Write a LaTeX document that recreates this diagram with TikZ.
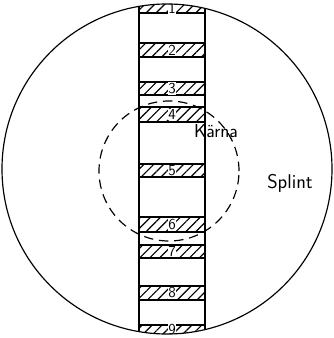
\documentclass[tikz,border=0pt]{standalone}
\usepackage{tikz}
\usetikzlibrary{patterns.meta}
\tikzset{
  band/.style={draw, line width=1pt, pattern={Lines[angle=45, distance=6pt, line width=1pt]}},
  num/.style={fill=white, inner sep=0.6pt, font=\fontsize{13}{14}\sffamily},
  lbl/.style={font=\fontsize{16}{19}\sffamily}
}
\begin{document}
\begin{tikzpicture}[x=0.03cm, y=-0.03cm]
  \useasboundingbox (0,0) rectangle (333,338);
  \coordinate (c) at (167,169);
  \coordinate (k) at (169,171);
  \begin{scope}
    \clip (c) circle (4.95cm);
    \foreach \n/\a/\b/\m in {1/1/13/8, 2/43/57/50, 3/82/95/88.5, 4/107/122/114.5, 5/164/177/170.5, 6/217/232/224.5, 7/245/258/251.5, 8/286/300/293, 9/325/340/329.5} {
      \draw[band] (139,\a) rectangle (205,\b);
      \node[num] (n\n) at (172,\m) {\n};
    }
    \draw[line width=1pt] (139,0) -- (139,338) (205,0) -- (205,338);
  \end{scope}
  \draw[line width=1pt] (c) circle (4.95cm);
  \draw[line width=1pt, dash pattern=on 8pt off 5pt] (k) circle (2.1cm);
  \node[lbl] (karna) at (216,131) {Kärna};
  \node[lbl, font=\fontsize{17}{20}\sffamily] (splint) at (290,183) {Splint};
\end{tikzpicture}
\end{document}
